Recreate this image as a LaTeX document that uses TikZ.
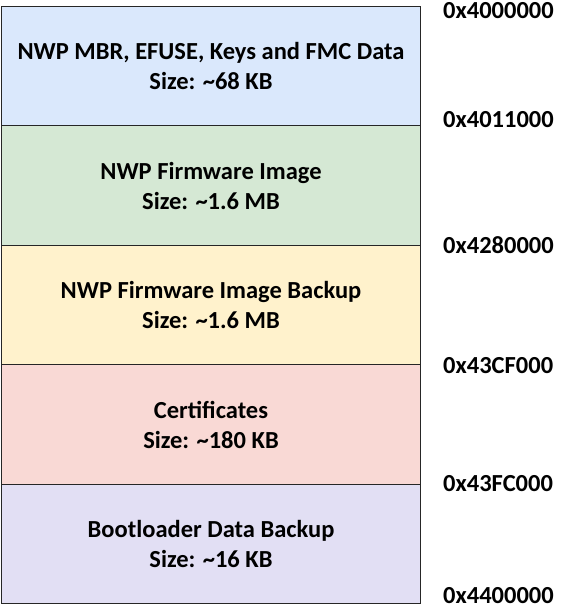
\documentclass[tikz,border=0pt]{standalone}
\usepackage{fontspec}
\setmainfont{Carlito}
\tikzset{
  region/.style={draw=black!85, line width=1.3pt, minimum width=419pt,
    minimum height=119.6pt, inner sep=0pt, outer sep=0pt, align=center,
    font=\bfseries\fontsize{24.5}{30}\selectfont},
  addr/.style={anchor=base west, inner sep=0pt, font=\bfseries\fontsize{24.5}{26}\selectfont}
}
\begin{document}
\begin{tikzpicture}[x=1pt,y=-1pt]
  \useasboundingbox (0,0) rectangle (564,608);

  \path (211,66)    node[region, fill={rgb,255:red,218;green,232;blue,252}](mbr)
          {NWP MBR, EFUSE, Keys and FMC Data\\Size: \textasciitilde68 KB}
        (211,185.5) node[region, fill={rgb,255:red,213;green,232;blue,212}](fw)
          {NWP Firmware Image\\Size: \textasciitilde1.6 MB}
        (211,305)   node[region, fill={rgb,255:red,255;green,242;blue,204}](fwbak)
          {NWP Firmware Image Backup\\Size: \textasciitilde1.6 MB}
        (211,424.5) node[region, fill={rgb,255:red,249;green,217;blue,213}](cert)
          {Certificates\\Size: \textasciitilde180 KB}
        (211,544)   node[region, fill={rgb,255:red,226;green,223;blue,244}](boot)
          {Bootloader Data Backup\\Size: \textasciitilde16 KB};

  \path (443,18)  node[addr](a0) {0x4000000}
        (443,127) node[addr](a1) {0x4011000}
        (443,253) node[addr](a2) {0x4280000}
        (443,373) node[addr](a3) {0x43CF000}
        (443,491) node[addr](a4) {0x43FC000}
        (443,603) node[addr](a5) {0x4400000};
\end{tikzpicture}
\end{document}
